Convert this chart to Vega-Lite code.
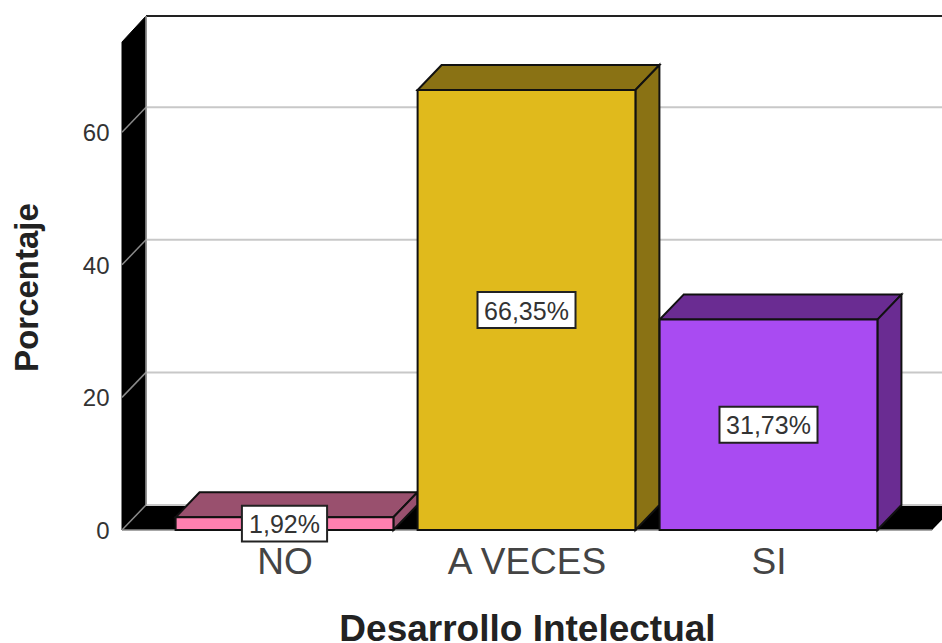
{
"$schema":"https://vega.github.io/schema/vega-lite/v6.json",
"autosize":{"type":"none"},
"padding":{"left":122,"top":16,"right":0,"bottom":113},
"width":820,"height":514,
"background":"white",
"config":{"view":{"stroke":null},"font":"Liberation Sans"},
"layer":[
{"data":{"values":[{"tope":73.6}]},
 "transform":[{"calculate":"[0,1]","as":"prof"},{"flatten":["prof"]},
  {"calculate":"0.3285+datum.prof*0.0992","as":"xm"},
  {"calculate":"datum.prof*3.77","as":"y0"},
  {"calculate":"datum.tope+datum.prof*3.92","as":"y1"}],
 "mark":{"type":"area","fill":"black","stroke":"black","strokeWidth":1},
 "encoding":{
  "x":{"field":"xm","type":"quantitative","scale":{"domain":[0.3285,3.7169],"nice":false,"zero":false},
   "axis":{"values":[1,2,3],"labelExpr":"['NO','A VECES','SI'][datum.value-1]","domain":false,"ticks":false,"grid":false,
    "labelFontSize":37,"labelColor":"#444444","labelPadding":14,"labelFont":"Liberation Sans","labelOverlap":false,"labelFlush":false,
    "title":"Desarrollo Intelectual","titleFontSize":37,"titleFontWeight":"bold","titleColor":"#222222","titleFont":"Liberation Sans","titlePadding":31,"titleX":405}},
  "y":{"field":"y0","type":"quantitative","scale":{"domain":[0,77.52],"nice":false},
   "axis":{"values":[0,20,40,60],"domain":false,"ticks":false,"grid":false,"labelFontSize":24,"labelColor":"#333333","labelPadding":13,"labelOffset":1.5,"labelFont":"Liberation Sans",
    "title":"Porcentaje","titleFontSize":33,"titleFontWeight":"bold","titleColor":"#222222","titleFont":"Liberation Sans","titlePadding":38,"titleY":271}},
  "y2":{"field":"y1"}}},
{"data":{"values":[{"base":0}]},
 "transform":[{"calculate":"[0,1]","as":"prof"},{"flatten":["prof"]},
  {"calculate":"datum.prof*3.77","as":"yf"},
  {"calculate":"0.3285+datum.prof*0.0992","as":"xa"},
  {"calculate":"3.676+datum.prof*0.0992","as":"xb"}],
 "mark":{"type":"area","orient":"horizontal","fill":"black","clip":true},
 "encoding":{"y":{"field":"yf","type":"quantitative","scale":{"domain":[0,77.52],"nice":false}},
  "x":{"field":"xa","type":"quantitative","scale":{"domain":[0.3285,3.7169],"nice":false,"zero":false}},
  "x2":{"field":"xb"}}},
{"data":{"values":[{"Porcentaje":0},{"Porcentaje":20},{"Porcentaje":40},{"Porcentaje":60}]},
 "layer":[
 {"transform":[{"calculate":"datum.Porcentaje+3.77","as":"yg"},{"calculate":"0.4277","as":"xa"},{"calculate":"3.7169","as":"xb"}],
  "mark":{"type":"rule","stroke":"#c8c8c8","strokeWidth":2,"clip":true},
  "encoding":{"y":{"field":"yg","type":"quantitative","scale":{"domain":[0,77.52],"nice":false}},
   "x":{"field":"xa","type":"quantitative","scale":{"domain":[0.3285,3.7169],"nice":false,"zero":false}},"x2":{"field":"xb"}}},
 {"transform":[{"calculate":"datum.Porcentaje+3.77","as":"yg"},{"calculate":"0.4277","as":"xa"},{"calculate":"0.3285","as":"xb"}],
  "mark":{"type":"rule","stroke":"#8a8a8a","strokeWidth":1.5},
  "encoding":{"y":{"field":"yg","type":"quantitative","scale":{"domain":[0,77.52],"nice":false}},"y2":{"field":"Porcentaje"},
   "x":{"field":"xa","type":"quantitative","scale":{"domain":[0.3285,3.7169],"nice":false,"zero":false}},"x2":{"field":"xb"}}}
 ]},
{"data":{"values":[{"techo":77.52,"xa":0.4277,"xb":3.7169,"suelo":3.77,"frente":0,"xc":0.3285,"xd":3.676}]},
 "layer":[
 {"mark":{"type":"rule","stroke":"#222222","strokeWidth":2},
  "encoding":{"y":{"field":"techo","type":"quantitative","scale":{"domain":[0,77.52],"nice":false}},
   "x":{"field":"xa","type":"quantitative","scale":{"domain":[0.3285,3.7169],"nice":false,"zero":false}},"x2":{"field":"xb"}}},
 {"mark":{"type":"rule","stroke":"#9a9a9a","strokeWidth":1.5},
  "encoding":{"x":{"field":"xa","type":"quantitative","scale":{"domain":[0.3285,3.7169],"nice":false,"zero":false}},
   "y":{"field":"suelo","type":"quantitative","scale":{"domain":[0,77.52],"nice":false}},"y2":{"field":"techo"}}},
 {"mark":{"type":"rule","stroke":"#8a8a8a","strokeWidth":1.5},
  "encoding":{"y":{"field":"frente","type":"quantitative","scale":{"domain":[0,77.52],"nice":false}},
   "x":{"field":"xc","type":"quantitative","scale":{"domain":[0.3285,3.7169],"nice":false,"zero":false}},"x2":{"field":"xd"}}}
 ]},
{"data":{"values":[
  {"Desarrollo":"NO","Porcentaje":1.92,"Etiqueta":"1,92%"},
  {"Desarrollo":"A VECES","Porcentaje":66.35,"Etiqueta":"66,35%"},
  {"Desarrollo":"SI","Porcentaje":31.73,"Etiqueta":"31,73%"}]},
 "transform":[
  {"calculate":"indexof(['NO','A VECES','SI'],datum.Desarrollo)+1","as":"u"},
  {"calculate":"datum.Desarrollo+' sombra'","as":"tono"}],
 "layer":[
 {"transform":[{"calculate":"[0,1]","as":"prof"},{"flatten":["prof"]},
   {"calculate":"datum.Porcentaje+datum.prof*3.77","as":"ys"},
   {"calculate":"datum.u-0.45+datum.prof*0.0992","as":"xa"},
   {"calculate":"datum.u+0.45+datum.prof*0.0992","as":"xb"}],
  "mark":{"type":"area","orient":"horizontal","stroke":"#111111","strokeWidth":2},
  "encoding":{"y":{"field":"ys","type":"quantitative","scale":{"domain":[0,77.52],"nice":false}},
   "x":{"field":"xa","type":"quantitative","scale":{"domain":[0.3285,3.7169],"nice":false,"zero":false}},"x2":{"field":"xb"},
   "detail":{"field":"Desarrollo"},
   "color":{"field":"tono","type":"nominal","legend":null,"scale":{"domain":["NO sombra","A VECES sombra","SI sombra","NO","A VECES","SI"],"range":["#99506E","#8A7214","#6A2C92","#FF80B0","#E0BA1C","#A94BF2"]}}}},
 {"transform":[{"calculate":"[0,1]","as":"prof"},{"flatten":["prof"]},
   {"calculate":"datum.u+0.45+datum.prof*0.0992","as":"xl"},
   {"calculate":"datum.prof*3.77","as":"yb"},
   {"calculate":"datum.Porcentaje+datum.prof*3.77","as":"yt"}],
  "mark":{"type":"area","stroke":"#111111","strokeWidth":2},
  "encoding":{"x":{"field":"xl","type":"quantitative","scale":{"domain":[0.3285,3.7169],"nice":false,"zero":false}},
   "y":{"field":"yb","type":"quantitative","scale":{"domain":[0,77.52],"nice":false}},"y2":{"field":"yt"},
   "detail":{"field":"Desarrollo"},
   "color":{"field":"tono","type":"nominal","legend":null,"scale":{"domain":["NO sombra","A VECES sombra","SI sombra","NO","A VECES","SI"],"range":["#99506E","#8A7214","#6A2C92","#FF80B0","#E0BA1C","#A94BF2"]}}}},
 {"transform":[{"calculate":"datum.u-0.45","as":"xa"},{"calculate":"datum.u+0.45","as":"xb"},{"calculate":"0","as":"y0"}],
  "mark":{"type":"rect","stroke":"#111111","strokeWidth":2},
  "encoding":{"x":{"field":"xa","type":"quantitative","scale":{"domain":[0.3285,3.7169],"nice":false,"zero":false}},"x2":{"field":"xb"},
   "y":{"field":"Porcentaje","type":"quantitative","scale":{"domain":[0,77.52],"nice":false}},"y2":{"field":"y0"},
   "color":{"field":"Desarrollo","type":"nominal","legend":null,"scale":{"domain":["NO sombra","A VECES sombra","SI sombra","NO","A VECES","SI"],"range":["#99506E","#8A7214","#6A2C92","#FF80B0","#E0BA1C","#A94BF2"]}}}},
 {"transform":[{"calculate":"length(datum.Etiqueta)*0.0265+0.0435","as":"hw"},
   {"calculate":"datum.u-datum.hw","as":"xa"},{"calculate":"datum.u+datum.hw","as":"xb"},
   {"calculate":"datum.Porcentaje/2-2.71","as":"ya"},{"calculate":"datum.Porcentaje/2+2.71","as":"yb"}],
  "mark":{"type":"rect","fill":"white","stroke":"#222222","strokeWidth":2},
  "encoding":{"x":{"field":"xa","type":"quantitative","scale":{"domain":[0.3285,3.7169],"nice":false,"zero":false}},"x2":{"field":"xb"},
   "y":{"field":"ya","type":"quantitative","scale":{"domain":[0,77.52],"nice":false}},"y2":{"field":"yb"}}},
 {"transform":[{"calculate":"datum.Porcentaje/2","as":"ym"}],
  "mark":{"type":"text","fontSize":25,"font":"Liberation Sans","fill":"#333333","align":"center","baseline":"middle","dy":1.5},
  "encoding":{"x":{"field":"u","type":"quantitative","scale":{"domain":[0.3285,3.7169],"nice":false,"zero":false}},
   "y":{"field":"ym","type":"quantitative","scale":{"domain":[0,77.52],"nice":false}},
   "text":{"field":"Etiqueta"}}}
 ]}
]}
